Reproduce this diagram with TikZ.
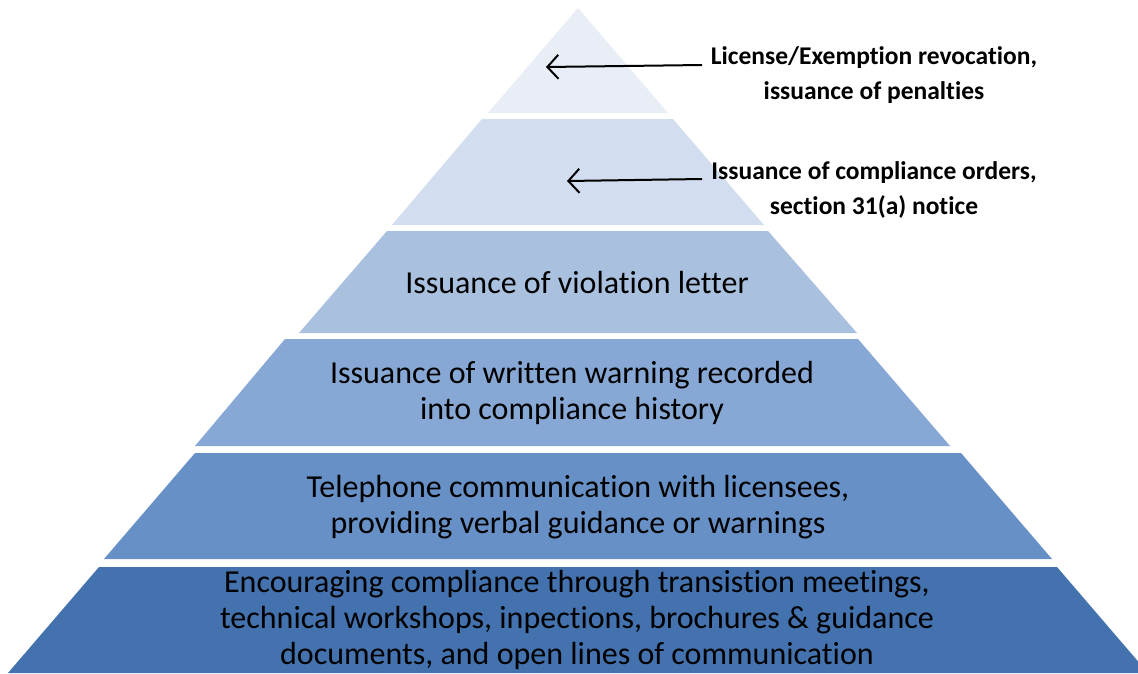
\documentclass[tikz,border=0pt]{standalone}
\usepackage{fontspec}
\setmainfont{Carlito}[Ligatures=NoCommon]
\usetikzlibrary{arrows.meta}
\definecolor{c1}{HTML}{E9EEF6}
\definecolor{c2}{HTML}{D2DEEF}
\definecolor{c3}{HTML}{A9C0DF}
\definecolor{c4}{HTML}{87A8D4}
\definecolor{c5}{HTML}{6790C6}
\definecolor{c6}{HTML}{4372AE}
\tikzset{
  layertext/.style={align=center, inner sep=0pt, font=\fontsize{32}{36}\selectfont, text=black},
  sidelabel/.style={align=center, inner sep=0pt, font=\fontsize{25.5}{35.5}\selectfont\bfseries, text=black},
  arr/.style={-{Straight Barb[length=11pt,width=24pt,line width=2pt]}, line width=2pt, black}
}
\begin{document}
\begin{tikzpicture}[x=1pt,y=-1pt]
\useasboundingbox (0,0) rectangle (1138,673);
\clip (0,0) rectangle (1138,673);
\fill[white] (0,0) rectangle (1138,673);
% layers
\fill[c1] (578,8) -- (668,113) -- (488,113) -- cycle;
\fill[c2] (482,119) -- (673,119) -- (764,225) -- (392,225) -- cycle;
\fill[c3] (387,231) -- (768,231) -- (857,333) -- (299,333) -- cycle;
\fill[c4] (285,339) -- (858,339) -- (950,446) -- (195,446) -- cycle;
\fill[c5] (195,453) -- (961,453) -- (1052,559) -- (104,559) -- cycle;
\fill[c6] (99,567) -- (1057,567) -- (1148,673) -- (8,673) -- cycle;
% layer texts
\node[layertext] (t3) at (577,283) {Issuance of violation letter};
\node[layertext] (t4) at (572,393) {Issuance of written warning recorded\\into compliance history};
\node[layertext] (t5) at (578,507) {Telephone communication with licensees,\\providing verbal guidance or warnings};
\node[layertext] (t6) at (577,620) {Encouraging compliance through transistion meetings,\\technical workshops, inpections, brochures \& guidance\\documents, and open lines of communication};
% side labels
\node[sidelabel] (l1) at (874,75) {License/Exemption revocation,\\issuance of penalties};
\node[sidelabel] (l2) at (874,190) {Issuance of compliance orders,\\section 31(a) notice};
\coordinate (s1) at (702,65);
\coordinate (e1) at (546,67);
\coordinate (s2) at (702,179);
\coordinate (e2) at (567,181);
\draw[arr] (s1) -- (e1);
\draw[arr] (s2) -- (e2);
\end{tikzpicture}
\end{document}
